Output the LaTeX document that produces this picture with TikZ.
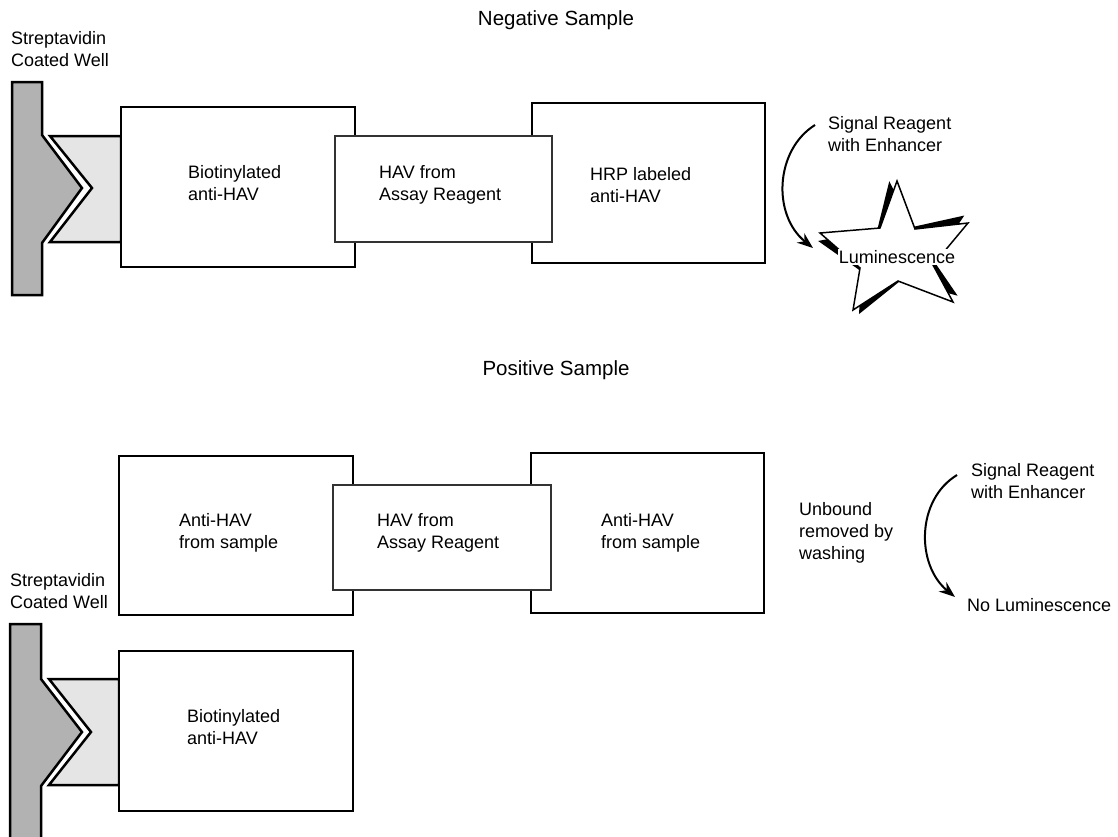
\documentclass[tikz,border=0pt]{standalone}
\usepackage{fontspec}
\setmainfont{Liberation Sans}
\usetikzlibrary{arrows.meta}
\begin{document}
\begin{tikzpicture}[x=1pt,y=-1pt,
  lbl/.style={font=\fontsize{18}{22}\selectfont, align=left, anchor=west, inner sep=0pt},
  head/.style={font=\fontsize{20.5}{24}\selectfont, anchor=center, inner sep=0pt},
  bigbox/.style={draw=black, line width=2.5pt, fill=white, anchor=north west, inner sep=0pt, outer sep=0pt},
  havbox/.style={draw=black!80, line width=2.2pt, fill=white, anchor=north west, inner sep=0pt, outer sep=0pt},
  wellbar/.style={draw=black, line width=2.5pt, fill=black!30, line join=miter},
  wellcap/.style={draw=black, line width=2.5pt, fill=black!10, line join=miter},
  curvearrow/.style={line width=2pt, -{Stealth[length=16pt,width=12pt]}}]
\useasboundingbox (0,0) rectangle (1118,836);

% ---------- Negative sample ----------
\node[head] (neg) at (556,20) {Negative Sample};
\node[lbl] (sw1) at (11,49) {Streptavidin\\Coated Well};

\draw[wellbar] (12,82) -- (42,82) -- (42,135) -- (82,188) -- (42,243) -- (42,295) -- (12,295) -- cycle;
\draw[wellcap] (50,136) -- (121,136) -- (121,242) -- (50,242) -- (92,188) -- cycle;

\node[bigbox, minimum width=234pt, minimum height=160pt] (bio1) at (121,107) {};
\node[bigbox, minimum width=233pt, minimum height=160pt] (hrp1) at (532,103) {};
\node[havbox, minimum width=217pt, minimum height=106pt] (hav1) at (335,136) {};

\node[lbl] (tbio1) at (188,183) {Biotinylated\\anti-HAV};
\node[lbl] (thav1) at (379,185) {HAV from\\Assay Reagent};
\node[lbl] (thrp1) at (590,185) {HRP labeled\\anti-HAV};

\node[lbl] (sig1) at (828,134) {Signal Reagent\\with Enhancer};
\coordinate (s1) at (815,125);
\coordinate (t1) at (813,248);
\draw[curvearrow] (s1) .. controls (775,150) and (772,215) .. (t1);

% star with shadow
\fill[black, rotate around={6:(895,255)}]
  (897,181) -- (915,229) -- (968,223) -- (933,265) -- (953,302) -- (898,281)
  -- (853,310) -- (860,268) -- (820,233) -- (880,228) -- cycle;
\draw[fill=white, line width=1.5pt, line join=miter]
  (897,181) -- (915,229) -- (968,223) -- (933,265) -- (953,302) -- (898,281)
  -- (853,310) -- (860,268) -- (820,233) -- (880,228) -- cycle;
\node[lbl, anchor=center, fill=white, inner sep=1pt] (lum) at (897,257) {Luminescence};

% ---------- Positive sample ----------
\node[head] (pos) at (556,370) {Positive Sample};

\node[bigbox, minimum width=234pt, minimum height=159pt] (anti1) at (119,456) {};
\node[bigbox, minimum width=233pt, minimum height=160pt] (anti2) at (531,453) {};
\node[havbox, minimum width=218pt, minimum height=105pt] (hav2) at (333,485) {};

\node[lbl] (tanti1) at (179,533) {Anti-HAV\\from sample};
\node[lbl] (thav2) at (377,533) {HAV from\\Assay Reagent};
\node[lbl] (tanti2) at (601,533) {Anti-HAV\\from sample};

\node[lbl] (unb) at (799,533) {Unbound\\removed by\\washing};

\node[lbl] (sig2) at (971,481) {Signal Reagent\\with Enhancer};
\coordinate (s2) at (957,475);
\coordinate (t2) at (955,597);
\draw[curvearrow] (s2) .. controls (916,500) and (916,565) .. (t2);
\node[lbl] (nolum) at (967,605) {No Luminescence};

\node[lbl] (sw2) at (10,591) {Streptavidin\\Coated Well};

\draw[wellbar] (10,624) -- (41,624) -- (41,679) -- (82,732) -- (41,786) -- (41,845) -- (10,845) -- cycle;
\draw[wellcap] (49,679) -- (119,679) -- (119,785) -- (49,785) -- (91,732) -- cycle;

\node[bigbox, minimum width=234pt, minimum height=160pt] (bio2) at (119,651) {};
\node[lbl] (tbio2) at (187,727) {Biotinylated\\anti-HAV};
\end{tikzpicture}
\end{document}
